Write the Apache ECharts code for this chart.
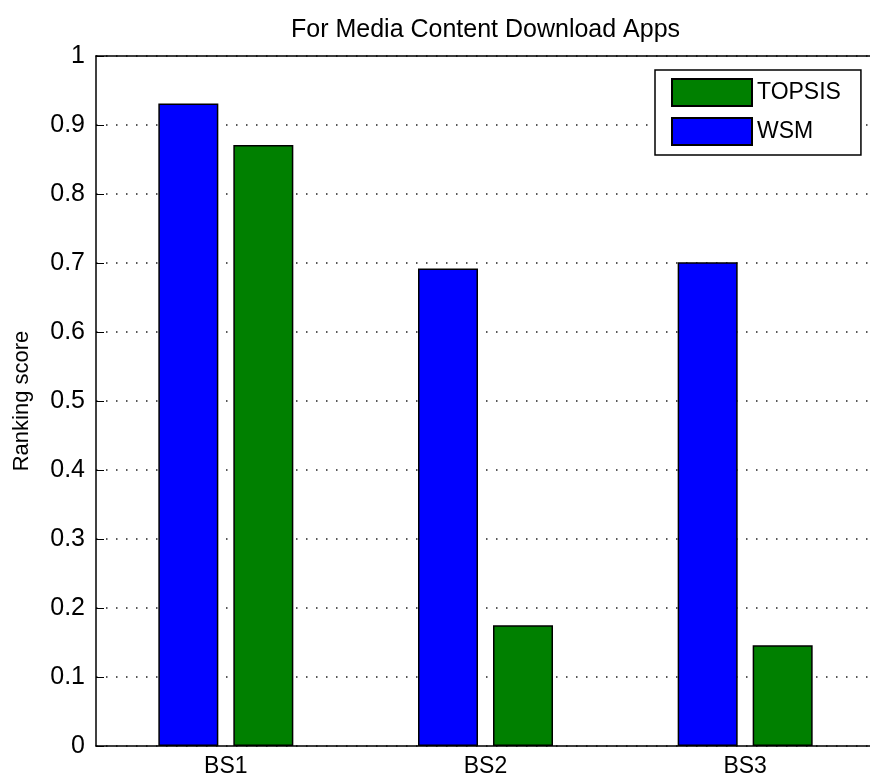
<!DOCTYPE html>
<html>
<head>
<meta charset="utf-8">
<script src="https://cdn.jsdelivr.net/npm/echarts@6/dist/echarts.min.js"></script>
<style>
  html, body { margin: 0; padding: 0; background: #fff; }
  #chart { width: 870px; height: 780px; }
</style>
</head>
<body>
<div id="chart"></div>
<script>
const categories = ['BS1', 'BS2', 'BS3']
const wsmScores = [0.931, 0.692, 0.701]
const topsisScores = [0.871, 0.175, 0.146]
const yTicks = [0, 0.1, 0.2, 0.3, 0.4, 0.5, 0.6, 0.7, 0.8, 0.9, 1]

const FONT = '"Liberation Sans", Arial, sans-serif'

const chart = echarts.init(document.getElementById('chart'))

const barStyle = color => ({ color, borderColor: '#000', borderWidth: 1.5 })

chart.setOption({
  animation: false,
  backgroundColor: '#fff',
  title: {
    text: 'For Media Content Download Apps',
    left: 286,
    top: 13,
    textStyle: { fontFamily: FONT, fontSize: 25, fontWeight: 'normal', color: '#000' }
  },
  legend: {
    data: ['TOPSIS', 'WSM'],
    orient: 'vertical',
    left: 655,
    top: 70,
    padding: [8, 20, 9, 16],
    icon: 'rect',
    itemWidth: 80,
    itemHeight: 27,
    itemGap: 10,
    backgroundColor: '#fff',
    borderColor: '#000',
    borderWidth: 1.5,
    textStyle: { fontFamily: FONT, fontSize: 23, color: '#000' }
  },
  grid: { left: 96, right: -5, top: 56, bottom: 34, outerBoundsMode: 'none', containLabel: false },
  xAxis: [
    {
      type: 'category',
      data: categories,
      axisLine: { lineStyle: { color: '#000', width: 1.5 } },
      axisTick: { inside: true, length: 8, alignWithLabel: true, lineStyle: { color: '#000' } },
      axisLabel: { fontFamily: FONT, fontSize: 23, color: '#000', margin: 9 }
    },
    {
      type: 'category',
      data: categories,
      position: 'top',
      axisLine: { show: true, lineStyle: { color: '#000', width: 1.5 } },
      axisTick: { inside: true, length: 8, alignWithLabel: true, lineStyle: { color: '#000' } },
      axisLabel: { show: false }
    }
  ],
  yAxis: {
    type: 'value',
    min: yTicks[0],
    max: yTicks[yTicks.length - 1],
    interval: 0.1,
    name: 'Ranking score',
    nameLocation: 'middle',
    nameGap: 63,
    nameTextStyle: { fontFamily: FONT, fontSize: 22, color: '#000' },
    axisLine: { show: true, lineStyle: { color: '#000', width: 1.5 } },
    axisTick: { show: true, inside: true, length: 8, lineStyle: { color: '#000' } },
    axisLabel: {
      fontFamily: FONT, fontSize: 25, color: '#000', margin: 11,
      formatter: v => String(Math.round(v * 10) / 10)
    },
    splitLine: { show: true, lineStyle: { color: '#222', width: 1.5, type: [1.5, 8.5] } }
  },
  series: [
    {
      name: 'WSM',
      type: 'bar',
      data: wsmScores,
      barWidth: 60,
      barGap: '25%',
      itemStyle: barStyle('#0000ff')
    },
    {
      name: 'TOPSIS',
      type: 'bar',
      data: topsisScores,
      barWidth: 60,
      itemStyle: barStyle('#008000')
    }
  ]
})
</script>
</body>
</html>
